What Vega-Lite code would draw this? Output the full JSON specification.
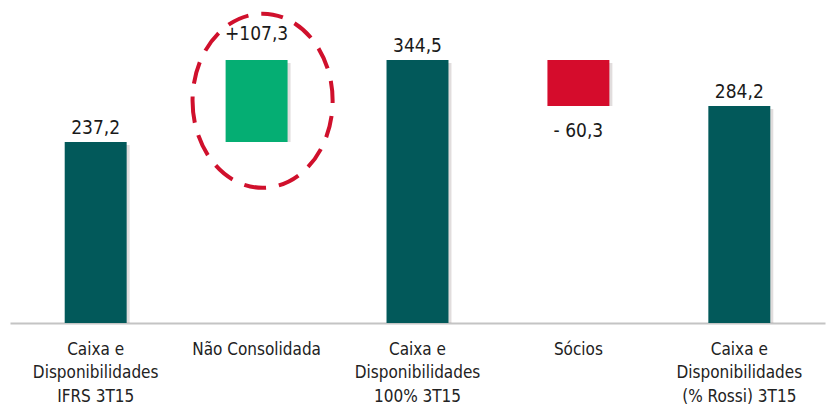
{
  "$schema": "https://vega.github.io/schema/vega-lite/v6.json",
  "width": 815,
  "height": 323,
  "autosize": "none",
  "padding": {"left": 10, "top": 0, "right": 3, "bottom": 85},
  "background": "white",
  "config": {"view": {"stroke": null}},
  "data": {
    "values": [
      {"category": "Caixa e|Disponibilidades|IFRS 3T15", "start": 0, "end": 237.2, "type": "total", "label": "237,2"},
      {"category": "Não Consolidada", "start": 237.2, "end": 344.5, "type": "up", "label": "+107,3"},
      {"category": "Caixa e|Disponibilidades|100% 3T15", "start": 0, "end": 344.5, "type": "total", "label": "344,5"},
      {"category": "Sócios", "start": 284.2, "end": 344.5, "type": "down", "label": "- 60,3"},
      {"category": "Caixa e|Disponibilidades|(% Rossi) 3T15", "start": 0, "end": 284.2, "type": "total", "label": "284,2"}
    ]
  },
  "encoding": {
    "x": {
      "field": "category",
      "type": "nominal",
      "sort": null,
      "scale": {"paddingInner": 0.615, "paddingOuter": 0.34},
      "axis": {
        "title": null,
        "labelAngle": 0,
        "labelExpr": "split(datum.label, '|')",
        "labelFont": "DejaVu Sans Condensed, sans-serif",
        "labelFontSize": 17,
        "labelColor": "#222222",
        "labelLineHeight": 23.5,
        "labelBaseline": "top",
        "labelPadding": 18,
        "ticks": false,
        "domainColor": "#c4c4c4",
        "domainWidth": 2
      }
    }
  },
  "layer": [
    {
      "mark": {"type": "bar", "color": "#9a9090", "opacity": 0.3, "xOffset": 3, "yOffset": 3},
      "encoding": {
        "y": {"field": "end", "type": "quantitative", "scale": {"domain": [0, 423.1], "nice": false}, "axis": null},
        "y2": {"field": "start"}
      }
    },
    {
      "mark": {"type": "bar"},
      "encoding": {
        "y": {"field": "end", "type": "quantitative"},
        "y2": {"field": "start"},
        "color": {
          "field": "type",
          "type": "nominal",
          "scale": {"domain": ["total", "up", "down"], "range": ["#02595a", "#05ae73", "#d50c2c"]},
          "legend": null
        }
      }
    },
    {
      "transform": [{"filter": "datum.type === 'total'"}],
      "mark": {"type": "text", "dy": -8, "baseline": "alphabetic", "font": "DejaVu Sans Condensed, sans-serif", "fontSize": 19, "color": "#1a1a1a"},
      "encoding": {
        "y": {"field": "end", "type": "quantitative"},
        "text": {"field": "label"}
      }
    },
    {
      "transform": [{"filter": "datum.type === 'up'"}],
      "mark": {"type": "text", "dy": -20, "baseline": "alphabetic", "font": "DejaVu Sans Condensed, sans-serif", "fontSize": 19, "color": "#1a1a1a"},
      "encoding": {
        "y": {"field": "end", "type": "quantitative"},
        "text": {"field": "label"}
      }
    },
    {
      "transform": [{"filter": "datum.type === 'down'"}],
      "mark": {"type": "text", "dy": 16, "baseline": "top", "font": "DejaVu Sans Condensed, sans-serif", "fontSize": 19, "color": "#1a1a1a"},
      "encoding": {
        "y": {"field": "start", "type": "quantitative"},
        "text": {"field": "label"}
      }
    },
    {
      "transform": [{"filter": "datum.type === 'up'"}],
      "mark": {
        "type": "point",
        "shape": "M -0.805 0 A 0.805 1 0 1 0 0.805 0 A 0.805 1 0 1 0 -0.805 0 Z",
        "size": 30276,
        "filled": false,
        "stroke": "#d0102c",
        "strokeWidth": 4,
        "strokeDash": [22, 13],
        "opacity": 1,
        "xOffset": 6,
        "yOffset": 3
      },
      "encoding": {
        "y": {"datum": 295, "type": "quantitative"}
      }
    }
  ]
}
